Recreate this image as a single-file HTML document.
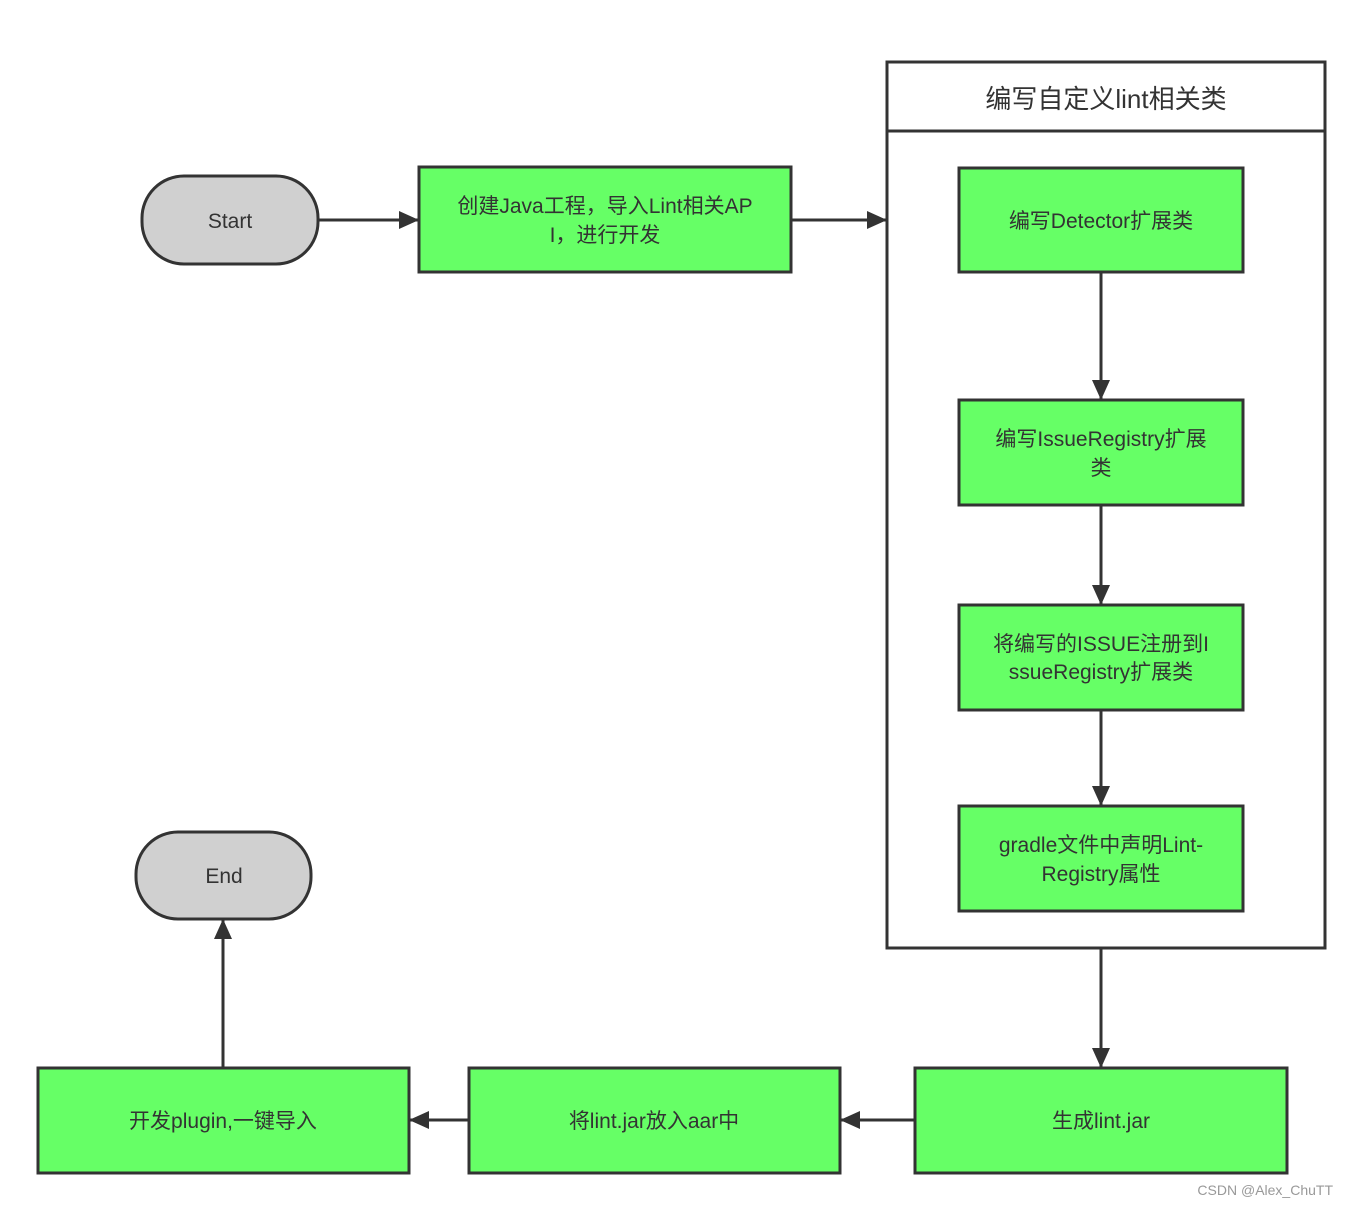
<!DOCTYPE html>
<html><head><meta charset="utf-8"><style>
html,body{margin:0;padding:0;background:#fff;}
svg text{font-family:"Liberation Sans","Noto Sans CJK SC",sans-serif;fill:#333;}
</style></head><body>
<svg width="1348" height="1206" viewBox="0 0 1348 1206" xmlns="http://www.w3.org/2000/svg">
<defs><marker id="a" markerWidth="10" markerHeight="10" refX="9" refY="5" orient="auto" markerUnits="userSpaceOnUse" viewBox="0 0 10 10"><path d="M0,0 L10,5 L0,10 z" fill="#333"/></marker>
<marker id="b" markerWidth="22" markerHeight="20" refX="20" refY="10" orient="auto" markerUnits="userSpaceOnUse"><path d="M0,1 L20,10 L0,19 z" fill="#333"/></marker></defs>
<g stroke="#333" stroke-width="3">
<rect x="142" y="176" width="176" height="88" rx="42" fill="#d0d0d0"/>
<rect x="136" y="832" width="175" height="87" rx="42" fill="#d0d0d0"/>
<rect x="419" y="167" width="372" height="105" fill="#66ff66"/>
<rect x="887" y="62" width="438" height="886" fill="#fff"/>
<line x1="887" y1="131" x2="1325" y2="131"/>
<rect x="959" y="168" width="284" height="104" fill="#66ff66"/>
<rect x="959" y="400" width="284" height="105" fill="#66ff66"/>
<rect x="959" y="605" width="284" height="105" fill="#66ff66"/>
<rect x="959" y="806" width="284" height="105" fill="#66ff66"/>
<rect x="38" y="1068" width="371" height="105" fill="#66ff66"/>
<rect x="469" y="1068" width="371" height="105" fill="#66ff66"/>
<rect x="915" y="1068" width="372" height="105" fill="#66ff66"/>
<g fill="none" marker-end="url(#b)">
<line x1="318" y1="220" x2="419" y2="220"/>
<line x1="791" y1="220" x2="887" y2="220"/>
<line x1="1101" y1="272" x2="1101" y2="400"/>
<line x1="1101" y1="505" x2="1101" y2="605"/>
<line x1="1101" y1="710" x2="1101" y2="806"/>
<line x1="1101" y1="948" x2="1101" y2="1068"/>
<line x1="915" y1="1120" x2="840" y2="1120"/>
<line x1="469" y1="1120" x2="409" y2="1120"/>
<line x1="223" y1="1068" x2="223" y2="919"/>
</g></g>
<g font-size="21" text-anchor="middle">
<text x="230" y="228">Start</text>
<text x="224" y="883">End</text>
<text x="605" y="213">创建Java工程，导入Lint相关AP</text>
<text x="605" y="242">I，进行开发</text>
<text x="1106" y="108" font-size="26">编写自定义lint相关类</text>
<text x="1101" y="228">编写Detector扩展类</text>
<text x="1101" y="446">编写IssueRegistry扩展</text>
<text x="1101" y="475">类</text>
<text x="1101" y="651">将编写的ISSUE注册到I</text>
<text x="1101" y="679">ssueRegistry扩展类</text>
<text x="1101" y="852">gradle文件中声明Lint-</text>
<text x="1101" y="881">Registry属性</text>
<text x="223" y="1128">开发plugin,一键导入</text>
<text x="654" y="1128">将lint.jar放入aar中</text>
<text x="1101" y="1128">生成lint.jar</text>
</g>
<text x="1333" y="1195" font-size="14" text-anchor="end" style="fill:#999">CSDN @Alex_ChuTT</text>
</svg>
</body></html>
